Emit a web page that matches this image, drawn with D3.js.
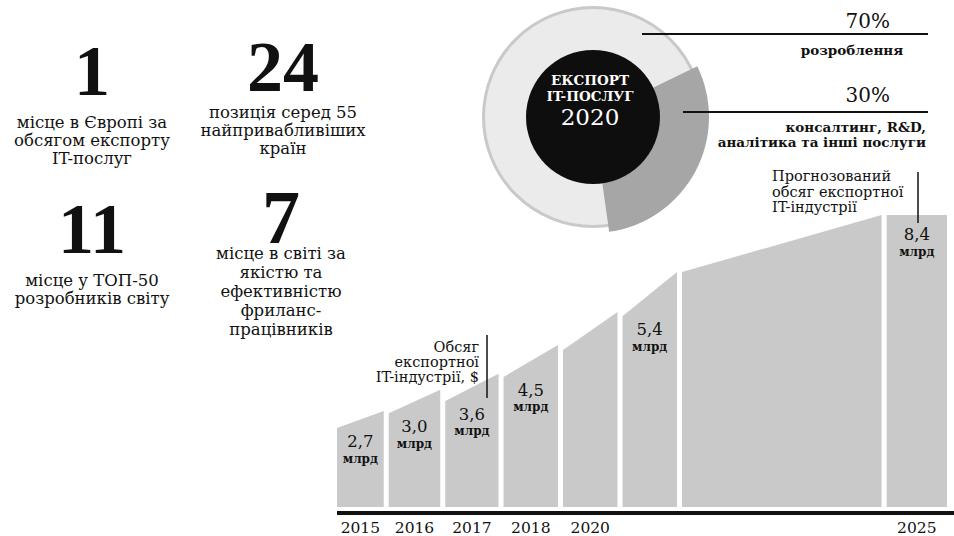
<!DOCTYPE html>
<html>
<head>
<meta charset="utf-8">
<script src="https://cdn.jsdelivr.net/npm/d3@7"></script>
<style>
  body { margin: 0; background: #fff; }
  svg { display: block; }
  text { font-family: "DejaVu Serif", serif; fill: #111; }
  .big { font-family: "Liberation Serif", serif; font-weight: bold; }
</style>
</head>
<body>
<div id="chart"></div>
<script>

// export volume segments (bn $)
var segYears  = ["2015", "2016", "2017", "2018", "2020", "", "", "2025"];
var segLabels = ["2,7", "3,0", "3,6", "4,5", "", "5,4", "", "8,4"];
var segFrom   = [2.27, 2.70, 3.05, 3.74, 4.52, 5.49, 6.76, 8.40];
var segTo     = [2.76, 3.37, 3.83, 4.66, 5.61, 6.76, 8.40, 8.40];
var segSpan   = [0.87, 0.95, 0.98, 1, 1, 1, 3.44, 1.1];

// donut: share of IT export 2020
var shareNames  = ["розроблення", "консалтинг"];
var shareValues = [70, 30];

// key figures
var statNumbers = ["1", "24", "11", "7"];
var statTexts = [
  ["місце в Європі за", "обсягом експорту", "IT-послуг"],
  ["позиція серед 55", "найпривабливіших", "країн"],
  ["місце у ТОП-50", "розробників світу"],
  ["місце в світі за", "якістю та", "ефективністю", "фриланс-", "працівників"]
];

var width = 954, height = 536;

var svg = d3.select("#chart").append("svg")
  .attr("width", width)
  .attr("height", height);

// ---------- key figures on the left ----------
var statPos = [
  {x: 92,  numY: 95,  textY: 128, lh: 18, fs: 72},
  {x: 283, numY: 91,  textY: 118, lh: 18, fs: 72},
  {x: 92,  numY: 253, textY: 286, lh: 18, fs: 72},
  {x: 281, numY: 243, textY: 259, lh: 19, fs: 76}
];

var stats = svg.selectAll("g.stat")
  .data(statNumbers)
  .enter()
  .append("g")
  .attr("class", "stat");

stats.append("text")
  .attr("class", "big")
  .attr("text-anchor", "middle")
  .attr("x", function(d, i) { return statPos[i].x; })
  .attr("y", function(d, i) { return statPos[i].numY; })
  .style("font-size", function(d, i) { return statPos[i].fs + "px"; })
  .text(String);

stats.each(function(d, i) {
  var p = statPos[i];
  var t = d3.select(this).append("text")
    .attr("text-anchor", "middle")
    .style("font-size", "16.5px");
  t.selectAll("tspan")
    .data(statTexts[i])
    .enter()
    .append("tspan")
    .attr("x", p.x)
    .attr("y", function(l, j) { return p.textY + j * p.lh; })
    .text(String);
});

// ---------- donut ----------
var cx = 593, cy = 117;
var rOuter = 111, rInner = 67;
var donut = svg.append("g").attr("transform", "translate(" + cx + "," + cy + ")");

donut.append("circle")
  .attr("r", rOuter - 1.5)
  .attr("fill", "#ebebeb")
  .attr("stroke", "#c9c9c9")
  .attr("stroke-width", 3);

// gray slice placed roughly where the picture has it
var sliceMid = 118 * Math.PI / 180;
var pie = d3.pie().sort(null)
  .startAngle(sliceMid - Math.PI * shareValues[1] / 100 - 2 * Math.PI * shareValues[0] / 100)
  .endAngle(sliceMid + Math.PI * shareValues[1] / 100);
var arcs = pie(shareValues);

var arc = d3.arc().innerRadius(rInner - 2).outerRadius(rOuter + 5);
donut.append("path")
  .attr("d", arc(arcs[1]))
  .attr("fill", "#a6a6a6");

donut.append("circle")
  .attr("r", rInner)
  .attr("fill", "#0e0e0e");

var centerText = donut.append("text")
  .attr("text-anchor", "middle")
  .style("fill", "#fff");
centerText.append("tspan")
  .attr("x", -3).attr("y", -32)
  .style("font-size", "13.5px").style("font-weight", "bold").style("fill", "#fff")
  .text("ЕКСПОРТ");
centerText.append("tspan")
  .attr("x", -3).attr("y", -16)
  .style("font-size", "13.5px").style("font-weight", "bold").style("fill", "#fff")
  .text("IT-ПОСЛУГ");
centerText.append("tspan")
  .attr("x", -3).attr("y", 8)
  .style("font-size", "23px").style("fill", "#fff")
  .text("2020");

// callouts
svg.append("line")
  .attr("x1", 642).attr("x2", 928).attr("y1", 34).attr("y2", 34)
  .attr("stroke", "#111").attr("stroke-width", 2);
svg.append("text")
  .attr("x", 890).attr("y", 21).attr("dy", "0.35em")
  .attr("text-anchor", "end")
  .style("font-size", "20px")
  .text(shareValues[0] + "%");
svg.append("text")
  .attr("x", 852).attr("y", 50).attr("dy", "0.35em")
  .attr("text-anchor", "middle")
  .style("font-size", "13.5px").style("font-weight", "bold")
  .text(shareNames[0]);

svg.append("line")
  .attr("x1", 683).attr("x2", 928).attr("y1", 112).attr("y2", 112)
  .attr("stroke", "#111").attr("stroke-width", 2);
svg.append("text")
  .attr("x", 890).attr("y", 95).attr("dy", "0.35em")
  .attr("text-anchor", "end")
  .style("font-size", "20px")
  .text(shareValues[1] + "%");
var otherText = svg.append("text")
  .attr("text-anchor", "end")
  .style("font-size", "13.5px").style("font-weight", "bold");
otherText.append("tspan").attr("x", 926).attr("y", 132).text("консалтинг, R&D,");
otherText.append("tspan").attr("x", 926).attr("y", 147).text("аналітика та інші послуги");

// ---------- growth bars ----------
var gap = 5;
var cum = [];
segSpan.reduce(function(acc, s) { cum.push(acc); return acc + s; }, 0);
var total = d3.sum(segSpan);

var x = d3.scaleLinear().domain([0, total]).range([337, 952]);
var y = d3.scaleLinear().domain([0, 8.4]).range([507, 215]);

var segs = segSpan.map(function(s, i) {
  return {
    x0: x(cum[i]),
    x1: x(cum[i] + s) - gap,
    from: segFrom[i],
    to: segTo[i],
    year: segYears[i],
    label: segLabels[i]
  };
});

var bars = svg.selectAll("g.seg")
  .data(segs)
  .enter()
  .append("g")
  .attr("class", "seg");

bars.append("path")
  .attr("fill", "#c9c9c9")
  .attr("d", function(d) {
    return "M" + d.x0 + "," + y(0) +
           "L" + d.x0 + "," + y(d.from) +
           "L" + d.x1 + "," + y(d.to) +
           "L" + d.x1 + "," + y(0) + "Z";
  });

bars.filter(function(d) { return d.label !== ""; })
  .each(function(d) {
    var mx = (d.x0 + d.x1) / 2;
    var ty = Math.max(y(d.from) + 13, y(d.to) + 19);
    var t = d3.select(this).append("text")
      .attr("text-anchor", "middle");
    t.append("tspan")
      .attr("x", mx).attr("y", ty + 6)
      .style("font-size", "16.5px")
      .text(d.label);
    t.append("tspan")
      .attr("x", mx).attr("y", ty + 21.5)
      .style("font-size", "12px").style("font-weight", "bold")
      .text("млрд");
  });

// baseline
svg.append("line")
  .attr("x1", 337).attr("x2", width).attr("y1", 513).attr("y2", 513)
  .attr("stroke", "#111").attr("stroke-width", 4);

bars.append("text")
  .attr("x", function(d) { return (d.x0 + d.x1) / 2; })
  .attr("y", 528).attr("dy", "0.35em")
  .attr("text-anchor", "middle")
  .style("font-size", "15.5px")
  .text(function(d) { return d.year; });

// notes
var note1 = ["Обсяг", "експортної", "IT-індустрії, $"];
var n1 = svg.append("text").attr("text-anchor", "end").style("font-size", "14.5px");
n1.selectAll("tspan")
  .data(note1)
  .enter()
  .append("tspan")
  .attr("x", 479)
  .attr("y", function(d, i) { return 352 + i * 15; })
  .text(String);
svg.append("line")
  .attr("x1", 487).attr("x2", 487).attr("y1", 335).attr("y2", 398)
  .attr("stroke", "#111").attr("stroke-width", 1.5);

var note2 = ["Прогнозований", "обсяг експортної", "IT-індустрії"];
var n2 = svg.append("text").style("font-size", "14.5px");
n2.selectAll("tspan")
  .data(note2)
  .enter()
  .append("tspan")
  .attr("x", 772)
  .attr("y", function(d, i) { return 181 + i * 15.5; })
  .text(String);
svg.append("line")
  .attr("x1", 918).attr("x2", 918).attr("y1", 172).attr("y2", 223)
  .attr("stroke", "#111").attr("stroke-width", 1.5);

</script>
</body>
</html>
